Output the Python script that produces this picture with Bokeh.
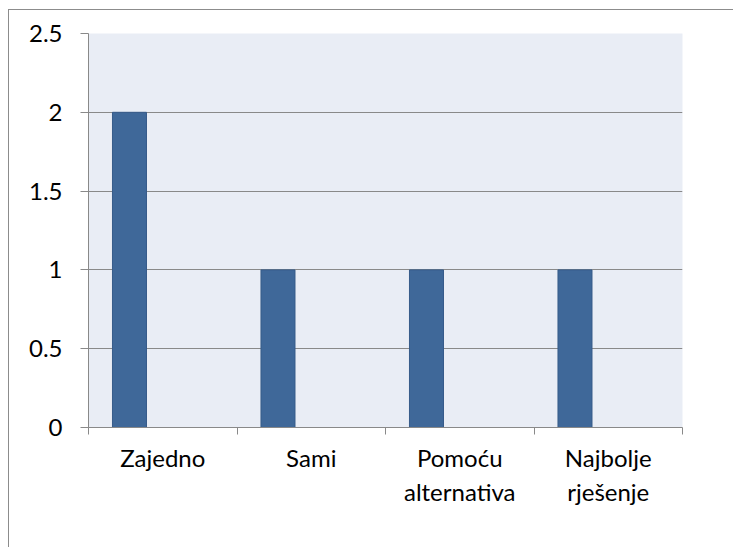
import numpy as np
from bokeh.plotting import figure
from bokeh.models import FixedTicker, Range1d
from bokeh.embed import file_html
from bokeh.resources import INLINE

categories = ["Zajedno", "Sami", "Pomoću\nalternativa", "Najbolje\nrješenje"]
values = [2, 1, 1, 1]
y_ticks = [0, 0.5, 1, 1.5, 2, 2.5]
y_labels = ["0", "0.5", "1", "1.5", "2", "2.5"]

n = len(categories)
idx = np.arange(n)
bar_x = idx + 0.276
bar_w = 0.229

p = figure(width=725, height=538, output_backend="svg", toolbar_location=None,
           x_range=Range1d(0, n), y_range=Range1d(0, 2.5))
p.styles = {"margin-left": "8px", "margin-top": "9px",
            "border-left": "1px solid #8c8c8c", "border-top": "1px solid #8c8c8c"}
p.min_border_left = 79
p.min_border_top = 23
p.min_border_right = 52
p.min_border_bottom = 121
p.background_fill_color = "#E9EDF5"
p.border_fill_color = "white"
p.outline_line_color = None

p.vbar(x=bar_x, top=values, width=bar_w, bottom=0,
       fill_color="#3F6899", line_color="#365B89", line_width=1)

# y axis
p.yaxis.ticker = FixedTicker(ticks=y_ticks)
p.yaxis.major_label_overrides = {t: l for t, l in zip(y_ticks, y_labels)}
p.yaxis.axis_line_color = "#898989"
p.yaxis.major_tick_line_color = "#898989"
p.yaxis.major_tick_out = 8
p.yaxis.major_tick_in = 0
p.yaxis.minor_tick_line_color = None
p.yaxis.major_label_text_font = "Lato"
p.yaxis.major_label_text_font_size = "24px"
p.yaxis.major_label_text_color = "black"
p.yaxis.major_label_standoff = 18

# x axis
p.xaxis.ticker = FixedTicker(ticks=list(idx + 0.5), minor_ticks=list(range(n + 1)))
p.xaxis.major_label_overrides = {float(i + 0.5): c for i, c in zip(idx, categories)}
p.xaxis.axis_line_color = "#898989"
p.xaxis.major_tick_line_color = None
p.xaxis.major_tick_out = 7
p.xaxis.minor_tick_line_color = "#898989"
p.xaxis.minor_tick_out = 7
p.xaxis.minor_tick_in = 0
p.xaxis.major_label_text_font = "Lato"
p.xaxis.major_label_text_font_size = "24px"
p.xaxis.major_label_text_color = "black"
p.xaxis.major_label_standoff = 8

p.xgrid.grid_line_color = None
p.ygrid.ticker = FixedTicker(ticks=y_ticks)
p.ygrid.grid_line_color = "#898989"
p.ygrid.grid_line_width = 1

open("out.html", "w").write(file_html(p, INLINE))
